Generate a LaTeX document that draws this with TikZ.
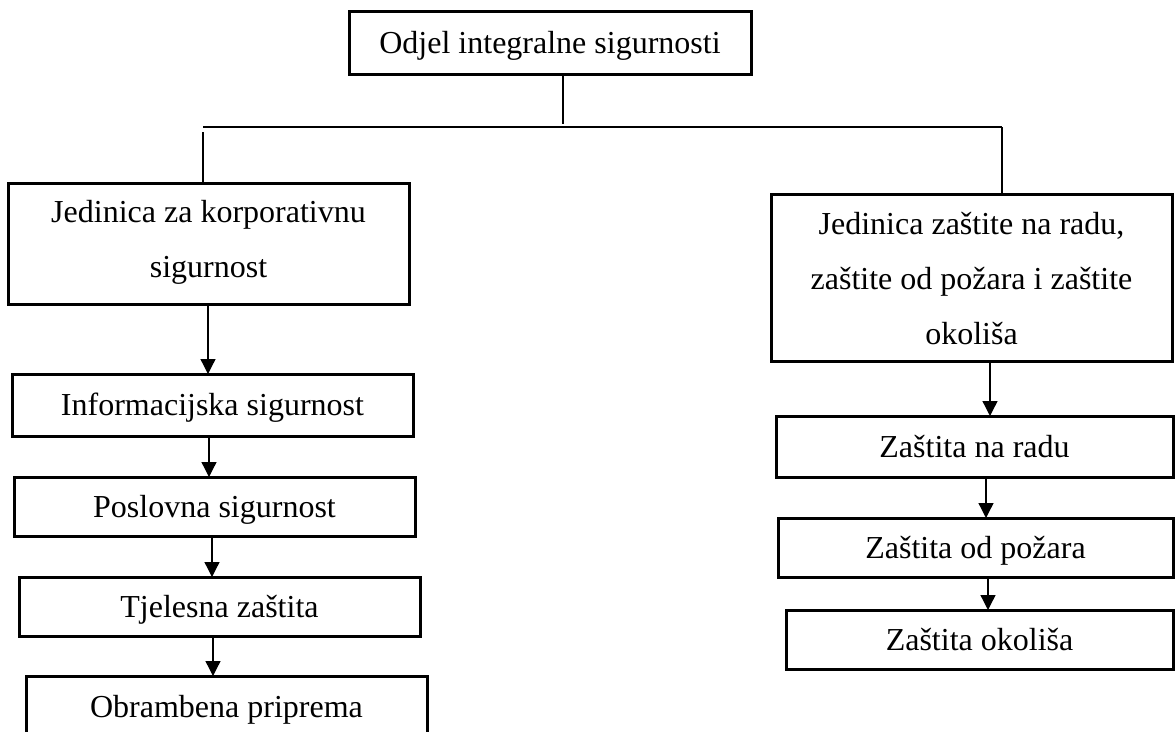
\documentclass[tikz,border=0pt]{standalone}
\usepackage{fontspec}
\setmainfont{Liberation Serif}
\usetikzlibrary{arrows.meta}
\tikzset{
  box/.style={draw=black, line width=3pt, rectangle, inner sep=0pt, outer sep=0pt,
    font=\fontsize{32pt}{55pt}\selectfont, align=center},
  onebox/.style={box, text height=27pt, text depth=6pt},
  conn/.style={draw=black, line width=1.3pt},
  arr/.style={conn, -{Triangle[length=15pt,width=15pt]}}
}
\newcommand\arrowdown[3]{\draw[arr] ([xshift=#3]#1.south) -- ([xshift=#3]#1.south |- #2.north);}
\begin{document}
\begin{tikzpicture}[x=1pt,y=-1pt]
\useasboundingbox (0,0) rectangle (1175,731);
\clip (0,0) rectangle (1175,731);
% top
\node[onebox, minimum width=402pt, minimum height=63pt] (top) at (550,42.5) {Odjel integralne sigurnosti};
% left column
\node[box, minimum width=401pt, minimum height=121pt] (kor) at (208.5,243.5)
  {\rule{0pt}{26pt}Jedinica za korporativnu\\ sigurnost\rule[-14pt]{0pt}{14pt}};
\node[onebox, minimum width=401pt, minimum height=62pt] (info) at (212.5,405) {Informacijska sigurnost};
\node[onebox, minimum width=401pt, minimum height=59pt] (posl) at (214.5,506.5) {Poslovna sigurnost};
\node[onebox, minimum width=401pt, minimum height=59pt] (tjel) at (219.5,606.5) {Tjelesna zaštita};
\node[onebox, minimum width=401pt, minimum height=62pt] (obr) at (226.5,707) {Obrambena priprema};
% right column
\node[box, minimum width=401pt, minimum height=167pt] (zas) at (971.5,277.5)
  {\rule{0pt}{30pt}Jedinica zaštite na radu,\\ zaštite od požara i zaštite\\ okoliša\rule[-7pt]{0pt}{7pt}};
\node[onebox, minimum width=397pt, minimum height=61pt] (rad) at (974.5,446.5) {Zaštita na radu};
\node[onebox, minimum width=395pt, minimum height=59pt] (poz) at (975.5,547.5) {Zaštita od požara};
\node[onebox, minimum width=387pt, minimum height=59pt] (oko) at (979.5,639.5) {Zaštita okoliša};
% tree connectors
\coordinate (stemend) at (563,124);
\coordinate (hl) at (203,127);
\coordinate (hr) at (1002,127);
\coordinate (lt) at (203,132);
\draw[conn] (top.south -| stemend) -- (stemend);
\draw[conn] (hl) -- (hr);
\draw[conn] (lt) -- (lt |- kor.north);
\draw[conn] (hr) -- (hr |- zas.north);
% arrows
\arrowdown{kor}{info}{-0.5pt}
\arrowdown{info}{posl}{-3.5pt}
\arrowdown{posl}{tjel}{-2.5pt}
\arrowdown{tjel}{obr}{-6.5pt}
\arrowdown{zas}{rad}{18.5pt}
\arrowdown{rad}{poz}{11.5pt}
\arrowdown{poz}{oko}{12.5pt}
\end{tikzpicture}
\end{document}
